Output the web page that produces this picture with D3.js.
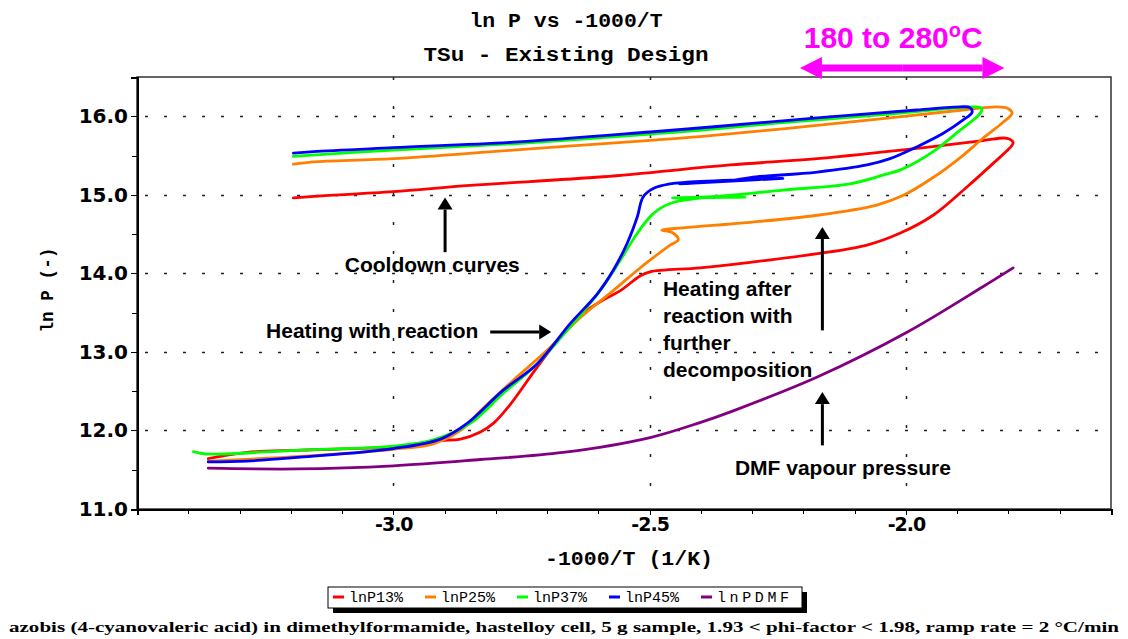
<!DOCTYPE html>
<meta charset="utf-8">
<style>
body { margin: 0; background: #fff; }
.axis text { font: bold 20px "DejaVu Sans", sans-serif; fill: #000; }
.axis line, .axis path { fill: none; stroke: #000; shape-rendering: crispEdges; }
.axis path { stroke-width: 2; }
.grid line { stroke: #222; stroke-width: 1.5; }
.curve { fill: none; stroke-width: 2.8; stroke-linejoin: round; stroke-linecap: round; }
.note { font: bold 21px "Liberation Sans", Arial, sans-serif; fill: #000; }
.mono { font-family: "Liberation Mono", "DejaVu Sans Mono", monospace; }
</style>
<body>
<script src="https://d3js.org/d3.v7.min.js"></script>
<script>

// series: [-1000/T, ln P], heating branch first, then cooldown back to the left
var hp13 = [
  [-3.361,11.64],[-3.285,11.72],[-3.181,11.75],[-3.000,11.79],[-2.908,11.87],[-2.869,11.89],
  [-2.830,11.98],[-2.805,12.09],[-2.772,12.33],[-2.719,12.81],[-2.669,13.23],[-2.630,13.49],
  [-2.591,13.66],[-2.557,13.78],[-2.518,13.97],[-2.499,14.02],[-2.402,14.07],[-2.304,14.14],
  [-2.173,14.25],[-2.076,14.36],[-2.012,14.51],[-1.947,14.74],[-1.881,15.10],[-1.830,15.40],
  [-1.793,15.63],[-1.791,15.67],[-1.803,15.72],
  [-1.850,15.69],[-1.979,15.59],[-2.173,15.46],[-2.343,15.38],[-2.591,15.23],[-2.850,15.12],
  [-3.000,15.04],[-3.156,14.98],[-3.195,14.96]
];
var hp25 = [
  [-3.361,11.61],[-3.181,11.67],[-3.000,11.76],[-2.922,11.83],[-2.869,12.00],[-2.830,12.25],
  [-2.766,12.64],[-2.700,13.02],[-2.635,13.44],[-2.571,13.78],[-2.524,14.04],[-2.493,14.20],
  [-2.460,14.36],[-2.444,14.43],[-2.456,14.52],[-2.476,14.55],[-2.435,14.58],[-2.304,14.65],
  [-2.173,14.74],[-2.057,14.87],[-2.006,14.99],[-1.947,15.22],[-1.889,15.50],[-1.850,15.72],
  [-1.811,15.92],[-1.793,16.04],[-1.801,16.10],[-1.823,16.12],
  [-1.889,16.08],[-2.045,15.97],[-2.240,15.84],[-2.402,15.74],[-2.505,15.69],[-2.766,15.57],
  [-3.000,15.46],[-3.156,15.42],[-3.195,15.39]
];
var hp37 = [
  [-3.390,11.73],[-3.366,11.70],[-3.181,11.75],[-3.000,11.80],[-2.922,11.88],[-2.850,12.09],
  [-2.786,12.47],[-2.719,12.85],[-2.655,13.32],[-2.622,13.57],[-2.591,13.83],[-2.557,14.17],
  [-2.524,14.51],[-2.493,14.76],[-2.460,14.89],[-2.396,14.96],[-2.314,14.97],[-2.456,14.96],
  [-2.368,14.98],[-2.240,15.06],[-2.109,15.14],[-2.045,15.25],[-2.006,15.33],[-1.947,15.55],
  [-1.895,15.82],[-1.856,16.03],[-1.852,16.10],[-1.866,16.12],
  [-1.914,16.10],[-2.045,16.02],[-2.240,15.92],[-2.402,15.82],[-2.505,15.77],[-2.766,15.65],
  [-3.000,15.57],[-3.195,15.49]
];
var hp45 = [
  [-3.361,11.60],[-3.285,11.61],[-3.181,11.66],[-3.000,11.77],[-2.908,11.89],[-2.856,12.09],
  [-2.786,12.51],[-2.719,12.85],[-2.655,13.36],[-2.602,13.74],[-2.571,14.04],[-2.544,14.38],
  [-2.524,14.72],[-2.513,14.97],[-2.493,15.08],[-2.460,15.14],[-2.427,15.16],[-2.240,15.21],
  [-2.441,15.14],[-2.343,15.18],[-2.304,15.22],[-2.173,15.29],[-2.076,15.38],[-2.031,15.46],
  [-1.979,15.61],[-1.928,15.78],[-1.889,15.95],[-1.871,16.05],[-1.875,16.11],[-1.895,16.12],
  [-1.979,16.08],[-2.173,15.98],[-2.368,15.87],[-2.499,15.80],[-2.766,15.67],[-3.000,15.60],
  [-3.156,15.55],[-3.195,15.53]
];
var hpDMF = [
  [-3.361,11.52],[-3.187,11.51],[-3.000,11.55],[-2.830,11.63],[-2.669,11.72],[-2.499,11.91],
  [-2.402,12.10],[-2.337,12.25],[-2.173,12.68],[-1.998,13.25],[-1.850,13.83],[-1.791,14.07]
];

var seriesNames = ["lnP13%", "lnP25%", "lnP37%", "lnP45%", "lnPDMF"];
var seriesColors = ["#ff0000", "#ff8000", "#00ff00", "#0000ff", "#800080"];
var seriesData = [hp13, hp25, hp37, hp45, hpDMF];

var yTicks = [11, 12, 13, 14, 15, 16];
var xTicks = [-3.0, -2.5, -2.0];

var margin = {top: 77, right: 17, bottom: 130, left: 137},
    width = 1128 - margin.left - margin.right,
    height = 639 - margin.top - margin.bottom;

var x = d3.scaleLinear().domain([-3.5, -1.6]).range([0, width]);
var y = d3.scaleLinear().domain([11, 16.5]).range([height, 0]);

var fmt = function(d) { return d3.format(".1f")(d).replace("\u2212", "-"); };

var root = d3.select("body").append("svg")
    .attr("width", 1128)
    .attr("height", 639);

var svg = root.append("g")
    .attr("transform", "translate(" + margin.left + "," + margin.top + ")");

// frame
svg.append("rect")
    .attr("width", width)
    .attr("height", height)
    .attr("fill", "none")
    .attr("stroke", "#333")
    .attr("stroke-width", 1.5);

// dotted grid
var grid = svg.append("g").attr("class", "grid");
yTicks.filter(function(d) { return d > 11; }).forEach(function(d) {
  grid.append("line")
      .attr("x1", 0).attr("x2", width)
      .attr("y1", Math.round(y(d)) + 0.5).attr("y2", Math.round(y(d)) + 0.5)
      .attr("stroke-dasharray", "3,16")
      .attr("stroke-dashoffset", -8);
});
xTicks.forEach(function(d) {
  grid.append("line")
      .attr("x1", Math.round(x(d)) + 0.5).attr("x2", Math.round(x(d)) + 0.5)
      .attr("y1", 0).attr("y2", height)
      .attr("stroke-dasharray", "3,26");
});

// axes
svg.append("g")
    .attr("class", "y axis")
    .call(d3.axisLeft(y).tickValues(d3.range(11.5, 16.6, 1)).tickSize(5).tickFormat(""));
svg.append("g")
    .attr("class", "y axis")
    .call(d3.axisLeft(y).tickValues(yTicks).tickSize(6).tickPadding(3).tickFormat(fmt));

svg.append("g")
    .attr("class", "x axis")
    .attr("transform", "translate(0," + height + ")")
    .call(d3.axisBottom(x).tickValues(d3.range(-3.4, -1.65, 0.1)).tickSize(5).tickFormat(""));
var xa = svg.append("g")
    .attr("class", "x axis")
    .attr("transform", "translate(0," + height + ")")
    .call(d3.axisBottom(x).tickValues(xTicks).tickSize(6).tickPadding(3).tickFormat(fmt));
xa.selectAll("text").style("font-size", "19px").style("letter-spacing", "-1px");

// curves
var line = d3.line()
    .x(function(d) { return x(d[0]); })
    .y(function(d) { return y(d[1]); })
    .curve(d3.curveCatmullRom.alpha(0.5));

svg.selectAll(".curve")
    .data(seriesData)
  .enter().append("path")
    .attr("class", "curve")
    .attr("stroke", function(d, i) { return seriesColors[i]; })
    .attr("d", line);

// annotation arrows
function arrow(g, x1, y1, x2, y2, color, w, hl, hw) {
  var a = Math.atan2(y2 - y1, x2 - x1), c = Math.cos(a), s = Math.sin(a);
  var bx = x2 - hl * c, by = y2 - hl * s;
  g.append("line")
      .attr("x1", x1).attr("y1", y1).attr("x2", bx).attr("y2", by)
      .attr("stroke", color).attr("stroke-width", w);
  g.append("path")
      .attr("d", "M" + x2 + "," + y2 + "L" + (bx - hw / 2 * s) + "," + (by + hw / 2 * c) +
                 "L" + (bx + hw / 2 * s) + "," + (by - hw / 2 * c) + "Z")
      .attr("fill", color);
}

var notes = svg.append("g");
notes.append("text").attr("class", "note")
    .attr("x", x(-2.924)).attr("y", y(14.017)).attr("text-anchor", "middle")
    .text("Cooldown curves");
arrow(notes, x(-2.899), y(14.27), x(-2.899), y(14.965), "#000", 3, 12, 15);

notes.append("text").attr("class", "note")
    .attr("x", x(-2.834)).attr("y", y(13.172)).attr("text-anchor", "end")
    .text("Heating with reaction");
arrow(notes, x(-2.811), y(13.252), x(-2.692), y(13.252), "#000", 3, 12, 15);

["Heating after", "reaction with", "further", "decomposition"].forEach(function(t, i) {
  notes.append("text").attr("class", "note")
      .attr("x", x(-2.474)).attr("y", y(13.711) + i * 27)
      .text(t);
});
arrow(notes, x(-2.163), y(13.274), x(-2.163), y(14.59), "#000", 3, 12, 15);

notes.append("text").attr("class", "note")
    .attr("x", x(-2.123)).attr("y", y(11.427)).attr("text-anchor", "middle")
    .text("DMF vapour pressure");
arrow(notes, x(-2.163), y(11.81), x(-2.163), y(12.488), "#000", 3, 12, 15);

// 180 to 280 C band, as -1000/T
var tLo = -1000 / (180 + 273.15), tHi = -1000 / (280 + 273.15);
var band = svg.append("g");
var mid = (x(tLo) + x(tHi)) / 2;
arrow(band, mid, -9, x(tLo), -9, "#ff00ff", 7, 22, 22);
arrow(band, mid, -9, x(tHi), -9, "#ff00ff", 7, 22, 22);
var bt = band.append("text")
    .attr("x", mid - 9).attr("y", -29)
    .attr("text-anchor", "middle")
    .attr("fill", "#ff00ff")
    .style("font", "bold 30px 'Liberation Sans', Arial, sans-serif");
bt.append("tspan").text("180 to 280");
bt.append("tspan").attr("dy", -11).style("font-size", "20px").text("o");
bt.append("tspan").attr("dy", 11).text("C");

// titles
root.append("text").attr("class", "mono")
    .attr("x", 566).attr("y", 27).attr("text-anchor", "middle")
    .attr("textLength", 193).attr("lengthAdjust", "spacingAndGlyphs")
    .style("font-weight", "bold").style("font-size", "20px")
    .text("ln P vs -1000/T");
root.append("text").attr("class", "mono")
    .attr("x", 566).attr("y", 61).attr("text-anchor", "middle")
    .attr("textLength", 285).attr("lengthAdjust", "spacingAndGlyphs")
    .style("font-weight", "bold").style("font-size", "20px")
    .text("TSu - Existing Design");

root.append("text").attr("class", "mono")
    .attr("x", 629).attr("y", 565).attr("text-anchor", "middle")
    .attr("textLength", 168).attr("lengthAdjust", "spacingAndGlyphs")
    .style("font-weight", "bold").style("font-size", "20px")
    .text("-1000/T (1/K)");

root.append("text").attr("class", "mono")
    .attr("transform", "translate(53,290) rotate(-90)")
    .attr("text-anchor", "middle")
    .attr("textLength", 85).attr("lengthAdjust", "spacingAndGlyphs")
    .style("font-weight", "bold").style("font-size", "19px")
    .text("ln P (-)");

// legend
var legend = root.append("g").attr("transform", "translate(328,587)");
legend.append("rect").attr("x", 5).attr("y", 5).attr("width", 474).attr("height", 21).attr("fill", "#000");
legend.append("rect").attr("width", 474).attr("height", 21).attr("fill", "#fff").attr("stroke", "#000");
seriesNames.forEach(function(name, i) {
  var row = legend.append("g").attr("transform", "translate(" + (5 + i * 92) + ",0)");
  row.append("line").attr("x1", 0).attr("x2", 11).attr("y1", 10).attr("y2", 10)
      .attr("stroke", seriesColors[i]).attr("stroke-width", 3);
  var t = row.append("text").attr("class", "mono")
      .attr("x", 16).attr("y", 15)
      .style("font-size", "15px")
      .text(name);
  if (i === 4) t.attr("textLength", 72).attr("lengthAdjust", "spacing");
});

// footnote
root.append("text")
    .attr("x", 564).attr("y", 632).attr("text-anchor", "middle")
    .attr("textLength", 1110).attr("lengthAdjust", "spacingAndGlyphs")
    .style("font", "bold 15px 'Liberation Serif', serif")
    .text("azobis (4-cyanovaleric acid) in dimethylformamide, hastelloy cell, 5 g sample, 1.93 < phi-factor < 1.98, ramp rate = 2 \u00b0C/min");

</script>
